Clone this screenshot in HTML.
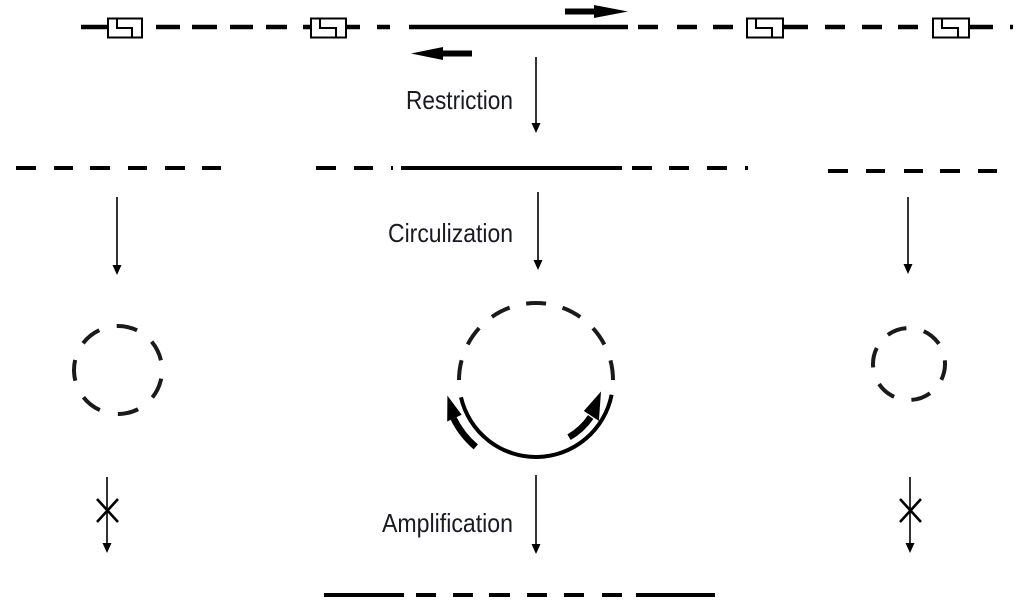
<!DOCTYPE html>
<html><head><meta charset="utf-8"><style>
html,body{margin:0;padding:0;background:#fff;}
svg{display:block;}
text{font-family:"Liberation Sans Narrow","Liberation Sans",sans-serif;font-size:26px;fill:#1a1a22;}
</style></head><body>
<svg width="1024" height="611" viewBox="0 0 1024 611" xmlns="http://www.w3.org/2000/svg">
<g stroke="#000" stroke-width="4.5" fill="none">
  <!-- Row 1 -->
  <line x1="81" y1="27" x2="107" y2="27"/>
  <line x1="156" y1="27" x2="180" y2="27"/>
  <line x1="192" y1="27" x2="217" y2="27"/>
  <line x1="230" y1="27" x2="253" y2="27"/>
  <line x1="266" y1="27" x2="287" y2="27"/>
  <line x1="303" y1="27" x2="310" y2="27"/>
  <line x1="346" y1="27" x2="360" y2="27"/>
  <line x1="377" y1="27" x2="390" y2="27"/>
  <line x1="409" y1="27" x2="628" y2="27"/>
  <line x1="638" y1="27" x2="658" y2="27"/>
  <line x1="677" y1="27" x2="697" y2="27"/>
  <line x1="713" y1="27" x2="733" y2="27"/>
  <line x1="783" y1="27" x2="808" y2="27"/>
  <line x1="825" y1="27" x2="845" y2="27"/>
  <line x1="862" y1="27" x2="882" y2="27"/>
  <line x1="898" y1="27" x2="918" y2="27"/>
  <line x1="969" y1="27" x2="993" y2="27"/>
  <line x1="1010" y1="27" x2="1013" y2="27"/>
</g>
<!-- boxes -->
<g stroke="#000" stroke-width="2" fill="#fff">
  <rect x="108" y="18.5" width="34" height="19"/>
  <path d="M117 18.5 V28 H132 V37.5" fill="none"/>
  <rect x="311" y="18.5" width="35" height="19"/>
  <path d="M320 18.5 V28 H336 V37.5" fill="none"/>
  <rect x="747" y="18.5" width="36" height="19"/>
  <path d="M756 18.5 V28 H772 V37.5" fill="none"/>
  <rect x="933" y="18.5" width="36" height="19"/>
  <path d="M942 18.5 V28 H958 V37.5" fill="none"/>
</g>
<!-- top arrows -->
<rect x="565" y="8.5" width="31" height="6" fill="#000"/>
<polygon points="594,5 628,11.5 594,18" fill="#000"/>
<rect x="441" y="50.5" width="31" height="6" fill="#000"/>
<polygon points="411,53.5 443,47 443,60" fill="#000"/>

<!-- Row 2 -->
<g stroke="#000" stroke-width="4" fill="none">
  <line x1="16" y1="168" x2="36" y2="168"/>
  <line x1="54" y1="168" x2="73" y2="168"/>
  <line x1="90" y1="168" x2="110" y2="168"/>
  <line x1="128" y1="168" x2="147" y2="168"/>
  <line x1="165" y1="168" x2="185" y2="168"/>
  <line x1="202" y1="168" x2="221" y2="168"/>
  <line x1="316" y1="168" x2="336" y2="168"/>
  <line x1="354" y1="168" x2="373" y2="168"/>
  <line x1="391" y1="168" x2="393" y2="168"/>
  <line x1="401" y1="168" x2="622" y2="168"/>
  <line x1="632" y1="168" x2="652" y2="168"/>
  <line x1="669" y1="168" x2="689" y2="168"/>
  <line x1="707" y1="168" x2="727" y2="168"/>
  <line x1="745" y1="168" x2="748" y2="168"/>
  <line x1="828" y1="171" x2="848" y2="171"/>
  <line x1="866" y1="171" x2="885" y2="171"/>
  <line x1="904" y1="171" x2="923" y2="171"/>
  <line x1="940" y1="171" x2="960" y2="171"/>
  <line x1="978" y1="171" x2="997" y2="171"/>
  <!-- bottom row -->
  <line x1="324" y1="595" x2="404" y2="595"/>
  <line x1="416" y1="595" x2="436" y2="595"/>
  <line x1="453" y1="595" x2="473" y2="595"/>
  <line x1="489" y1="595" x2="510" y2="595"/>
  <line x1="527" y1="595" x2="547" y2="595"/>
  <line x1="564" y1="595" x2="584" y2="595"/>
  <line x1="602" y1="595" x2="622" y2="595"/>
  <line x1="636" y1="595" x2="715" y2="595"/>
</g>

<!-- connector arrows -->
<g stroke="#000" stroke-width="1.6">
  <line x1="536" y1="57" x2="536" y2="125"/>
  <line x1="538" y1="192" x2="538" y2="262"/>
  <line x1="117" y1="197" x2="117" y2="267"/>
  <line x1="908" y1="197" x2="908" y2="266"/>
  <line x1="536" y1="475" x2="536" y2="546"/>
  <line x1="107" y1="477" x2="107" y2="545"/>
  <line x1="910" y1="477" x2="910" y2="545"/>
</g>
<g fill="#000">
  <polygon points="531.5,123 540.5,123 536,133"/>
  <polygon points="533.5,260 542.5,260 538,270"/>
  <polygon points="112.5,265 121.5,265 117,275"/>
  <polygon points="903.5,264 912.5,264 908,274"/>
  <polygon points="531.5,544 540.5,544 536,554"/>
  <polygon points="102.5,543 111.5,543 107,553"/>
  <polygon points="905.5,543 914.5,543 910,553"/>
</g>
<!-- X marks -->
<g stroke="#000" stroke-width="2.6">
  <line x1="97" y1="499" x2="118" y2="522"/>
  <line x1="97" y1="522" x2="118" y2="499"/>
  <line x1="900" y1="499" x2="921" y2="522"/>
  <line x1="900" y1="522" x2="921" y2="499"/>
</g>

<!-- circles -->
<circle cx="118" cy="370" r="44" fill="none" stroke="#1a1a1a" stroke-width="4" stroke-dasharray="21 18.5" transform="rotate(-91.7 118 370)"/>
<circle cx="909" cy="364" r="36" fill="none" stroke="#1a1a1a" stroke-width="4" stroke-dasharray="20 17.7" transform="rotate(-126 909 364)"/>
<path d="M 459 380 A 77 77 0 0 1 613 380" fill="none" stroke="#1a1a1a" stroke-width="4" stroke-dasharray="20 17"/>
<path d="M 611.6 394.7 A 77 77 0 0 1 461 397.3" fill="none" stroke="#000" stroke-width="4"/>

<!-- circle arrows -->
<path d="M 475.8 446.9 A 90 90 0 0 1 453.6 418.4" fill="none" stroke="#000" stroke-width="6.5"/>
<polygon points="461.7,414.7 447.2,421.5 447.4,395.6" fill="#000"/>
<path d="M 569 437.2 A 66 66 0 0 0 590.7 417.0" fill="none" stroke="#000" stroke-width="6.5"/>
<polygon points="583.8,411.0 598.9,420.9 601.0,391.5" fill="#000"/>

<!-- labels -->
<text x="406" y="109" textLength="107" lengthAdjust="spacingAndGlyphs">Restriction</text>
<text x="388" y="242" textLength="125" lengthAdjust="spacingAndGlyphs">Circulization</text>
<text x="382" y="532" textLength="131" lengthAdjust="spacingAndGlyphs">Amplification</text>
</svg>
</body></html>
